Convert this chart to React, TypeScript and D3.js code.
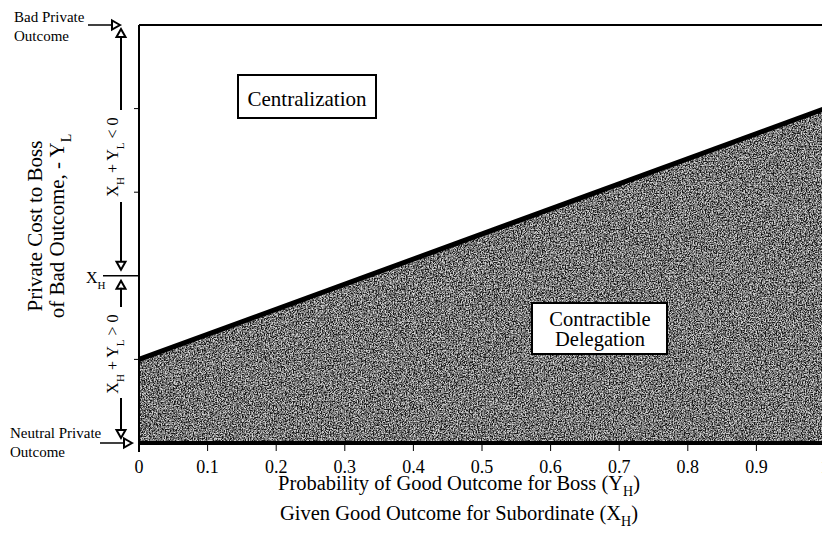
import * as d3 from 'd3';

// probability of good outcome for boss (x axis)
const xTicks = [0, 0.1, 0.2, 0.3, 0.4, 0.5, 0.6, 0.7, 0.8, 0.9, 1];
// private cost to boss, scaled 0 (neutral) .. 1 (bad)
const yTicks = [0.2, 0.6, 0.8];
const xH = 0.4;
// boundary between the two regions
const boundaryP = [0, 1];
const boundaryCost = [0.2, 0.8];

const W = 822;
const H = 547;
const FONT = "'Times New Roman', Times, 'Liberation Serif', Tinos, 'Nimbus Roman', FreeSerif, 'DejaVu Serif', serif";

function Arrow({ x, y, dir }: { x: number; y: number; dir: 'up' | 'down' | 'right' }) {
  const s = 4.5;
  const pts =
    dir === 'up'
      ? [[x, y], [x - s, y + 8], [x + s, y + 8]]
      : dir === 'down'
      ? [[x, y], [x - s, y - 8], [x + s, y - 8]]
      : [[x, y], [x - 8, y - s], [x - 8, y + s]];
  return <polygon points={pts.map(p => p.join(',')).join(' ')} fill="#fff" stroke="#000" strokeWidth={2} />;
}

export default function App() {
  const x = d3.scaleLinear().domain([0, 1]).range([139, 825]);
  const y = d3.scaleLinear().domain([0, 1]).range([443, 25]);

  const boundary = boundaryP.map((p, i) => ({ p, c: boundaryCost[i] }));
  const area = d3.area<{ p: number; c: number }>()
    .x(d => x(d.p))
    .y0(y(0))
    .y1(d => y(d.c));
  const line = d3.line<{ p: number; c: number }>()
    .x(d => x(d.p))
    .y(d => y(d.c));

  const ax = 121; // x of the vertical bracket arrows

  return (
    <svg width={W} height={H} style={{ position: 'absolute', left: 0, top: 0, background: '#fff' }}>
      <defs>
        <filter id="speckle" x="0" y="0" width="100%" height="100%">
          <feTurbulence type="fractalNoise" baseFrequency="0.75" numOctaves={2} seed={4} />
          <feColorMatrix type="matrix" values="0 0 0 0 1  0 0 0 0 1  0 0 0 0 1  1 0 0 0 0" />
          <feComponentTransfer>
            <feFuncA type="discrete" tableValues="0 0 0 0.3 0.6 0.9 1 1" />
          </feComponentTransfer>
        </filter>
        <clipPath id="regionClip">
          <path d={area(boundary) || ''} />
        </clipPath>
      </defs>

      {/* Contractible delegation region */}
      <path d={area(boundary) || ''} fill="#1a1a1a" />
      <rect x={x(0)} y={0} width={W} height={H} filter="url(#speckle)" clipPath="url(#regionClip)" opacity={0.85} />
      <path d={line(boundary) || ''} stroke="#000" strokeWidth={5} fill="none" />

      {/* frame */}
      <line x1={x(0)} x2={W} y1={y(1)} y2={y(1)} stroke="#000" strokeWidth={2} />
      <line x1={x(0)} x2={x(0)} y1={y(1)} y2={y(0) + 9} stroke="#000" strokeWidth={2} />
      <line x1={x(0)} x2={W} y1={y(0)} y2={y(0)} stroke="#000" strokeWidth={4} />

      <g style={{ fontFamily: FONT }}>
        {/* x axis ticks */}
        {xTicks.map((t, i) => (
          <g key={i}>
            <line x1={x(t)} x2={x(t)} y1={y(0)} y2={y(0) + 8} stroke="#000" strokeWidth={1} />
            <text x={x(t)} y={473} textAnchor="middle" fontSize={18}>{t}</text>
          </g>
        ))}

        {/* y axis ticks */}
        {yTicks.map((t, i) => (
          <line key={i} x1={x(0) - 5} x2={x(0)} y1={y(t)} y2={y(t)} stroke="#000" strokeWidth={1} />
        ))}
        <line x1={103} x2={x(0)} y1={y(xH)} y2={y(xH)} stroke="#000" strokeWidth={1.5} />
        <text x={86} y={283} fontSize={16}>X<tspan dy={6} fontSize={11}>H</tspan></text>

        {/* bracket arrows */}
        <line x1={ax} x2={ax} y1={y(1) + 12} y2={110} stroke="#000" strokeWidth={2} />
        <Arrow x={ax} y={y(1) + 4} dir="up" />
        <line x1={ax} x2={ax} y1={202} y2={y(xH) - 10} stroke="#000" strokeWidth={2} />
        <Arrow x={ax} y={y(xH) - 6} dir="down" />
        <text transform={`translate(118,157) rotate(-90)`} textAnchor="middle" fontSize={16}>
          X<tspan dy={6} fontSize={11}>H</tspan><tspan dy={-6}> + Y</tspan><tspan dy={6} fontSize={11}>L</tspan><tspan dy={-6}> &lt; 0</tspan>
        </text>

        <Arrow x={ax} y={y(xH) + 5} dir="up" />
        <line x1={ax} x2={ax} y1={y(xH) + 12} y2={307} stroke="#000" strokeWidth={2} />
        <line x1={ax} x2={ax} y1={398} y2={y(0) - 10} stroke="#000" strokeWidth={2} />
        <Arrow x={ax} y={y(0) - 5} dir="down" />
        <text transform={`translate(118,354) rotate(-90)`} textAnchor="middle" fontSize={16}>
          X<tspan dy={6} fontSize={11}>H</tspan><tspan dy={-6}> + Y</tspan><tspan dy={6} fontSize={11}>L</tspan><tspan dy={-6}> &gt; 0</tspan>
        </text>

        {/* end labels */}
        <text x={14} y={22} fontSize={15}>Bad Private</text>
        <text x={14} y={41} fontSize={15}>Outcome</text>
        <line x1={88} x2={114} y1={y(1)} y2={y(1)} stroke="#000" strokeWidth={1.5} />
        <Arrow x={120} y={y(1)} dir="right" />

        <text x={10} y={438} fontSize={15}>Neutral Private</text>
        <text x={10} y={457} fontSize={15}>Outcome</text>
        <line x1={100} x2={126} y1={y(0)} y2={y(0)} stroke="#000" strokeWidth={1.5} />
        <Arrow x={132} y={y(0)} dir="right" />

        {/* y title */}
        <text transform="translate(42,226) rotate(-90)" textAnchor="middle" fontSize={21}>Private Cost to Boss</text>
        <text transform="translate(64,226) rotate(-90)" textAnchor="middle" fontSize={21}>
          of Bad Outcome, - Y<tspan dy={7} fontSize={14}>L</tspan>
        </text>

        {/* x title */}
        <text x={459} y={490} textAnchor="middle" fontSize={20.5}>
          Probability of Good Outcome for Boss (Y<tspan dy={6} fontSize={14}>H</tspan><tspan dy={-6}>)</tspan>
        </text>
        <text x={459} y={520} textAnchor="middle" fontSize={20.5}>
          Given Good Outcome for Subordinate (X<tspan dy={6} fontSize={14}>H</tspan><tspan dy={-6}>)</tspan>
        </text>

        {/* region labels */}
        <rect x={238} y={75} width={138} height={43} fill="#fff" stroke="#000" strokeWidth={2} />
        <text x={307} y={106} textAnchor="middle" fontSize={21}>Centralization</text>

        <rect x={532} y={303} width={135} height={51} fill="#fff" stroke="#000" strokeWidth={2} />
        <text x={600} y={326} textAnchor="middle" fontSize={20.5}>Contractible</text>
        <text x={600} y={346} textAnchor="middle" fontSize={20.5}>Delegation</text>
      </g>
    </svg>
  );
}
